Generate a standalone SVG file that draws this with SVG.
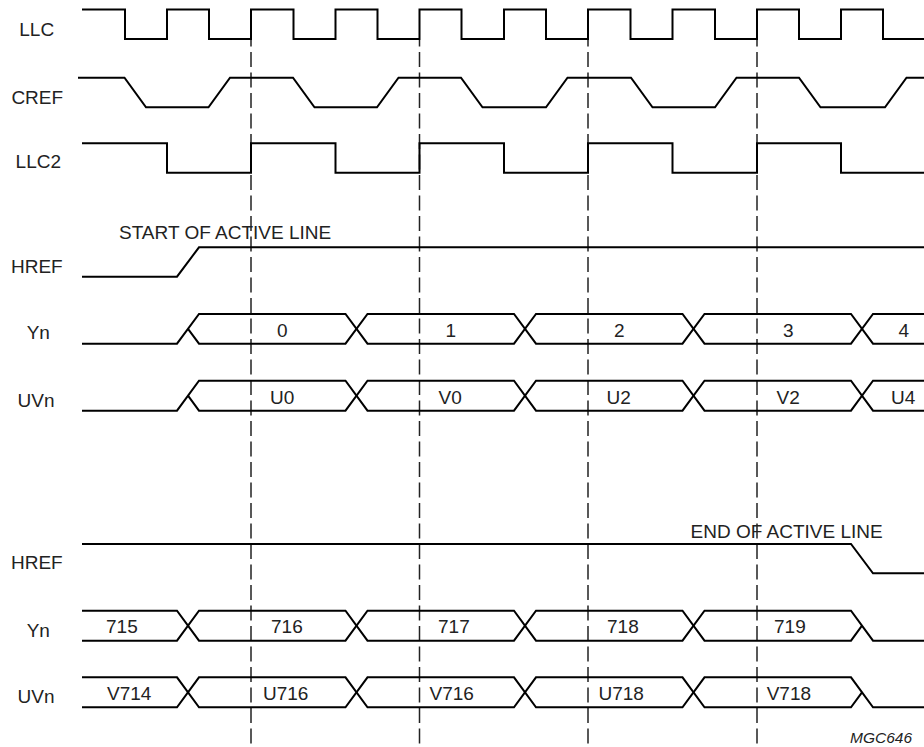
<svg xmlns="http://www.w3.org/2000/svg" width="924" height="747" viewBox="0 0 924 747">
  <style>
    .w { fill: none; stroke: #000; stroke-width: 2; stroke-linejoin: miter; }
    .d { fill: none; stroke: #222; stroke-width: 1.5; stroke-dasharray: 15 5.5; stroke-dashoffset: 8.5; }
    text { font-family: "Liberation Sans", Arial, Helvetica, sans-serif; font-size: 19px; fill: #222; }
    .tag { font-size: 15.5px; font-style: italic; }
  </style>
  <rect width="924" height="747" fill="#fff"/>

  <g id="guides">
    <line class="d" x1="251" y1="40" x2="251" y2="744"/>
    <line class="d" x1="419.5" y1="40" x2="419.5" y2="744"/>
    <line class="d" x1="588" y1="40" x2="588" y2="744"/>
    <line class="d" x1="757" y1="40" x2="757" y2="744"/>
  </g>

  <g id="llc">
    <text x="19.3" y="35.5">LLC</text>
    <path class="w" d="M82,9.5 H125 V39 H167 V9.5 H209 V39 H251 V9.5 H293.5 V39 H335.5 V9.5 H377.5 V39 H419.5 V9.5 H461.5 V39 H504 V9.5 H546 V39 H588 V9.5 H630.5 V39 H672.5 V9.5 H715 V39 H757 V9.5 H799 V39 H841 V9.5 H883 V39 H924"/>
  </g>

  <g id="cref">
    <text x="11.4" y="103.5">CREF</text>
    <path class="w" d="M78,77.7 H124.5 L146,107.3 H208.5 L230,77.7 H293 L314.5,107.3 H377 L398.5,77.7 H461 L482.5,107.3 H546 L567.5,77.7 H631 L652.5,107.3 H715 L736.5,77.7 H799 L820.5,107.3 H885 L906.5,77.7 H924"/>
  </g>

  <g id="llc2">
    <text x="15.6" y="168">LLC2</text>
    <path class="w" d="M82,143.3 H167 V172.7 H251 V143.3 H335.5 V172.7 H419.5 V143.3 H504 V172.7 H588 V143.3 H672.5 V172.7 H757 V143.3 H841 V172.7 H924"/>
  </g>

  <g id="href-start">
    <text x="119" y="238.5">START OF ACTIVE LINE</text>
    <text x="11" y="272.5">HREF</text>
    <path class="w" d="M82,276.7 H177 L199,247.3 H924"/>
  </g>

  <g id="yn-start">
    <text x="26.7" y="339">Yn</text>
    <path class="w" d="M82,343.7 H177 L199,314 H345.5 L367.5,343.7 H514 L536,314 H682.5 L704.5,343.7 H851 L873,314 H924"/>
    <path class="w" d="M188,328.85 L199,343.7 H345.5 L367.5,314 H514 L536,343.7 H682.5 L704.5,314 H851 L873,343.7 H924"/>
    <text x="277" y="336.5">0</text>
    <text x="445.5" y="336.5">1</text>
    <text x="614" y="336.5">2</text>
    <text x="783" y="336.5">3</text>
    <text x="898.5" y="336.5">4</text>
  </g>

  <g id="uvn-start">
    <text x="17.6" y="406.5">UVn</text>
    <path class="w" d="M82,410.7 H177 L199,380.7 H345.5 L367.5,410.7 H514 L536,380.7 H682.5 L704.5,410.7 H851 L873,380.7 H924"/>
    <path class="w" d="M188,395.7 L199,410.7 H345.5 L367.5,380.7 H514 L536,410.7 H682.5 L704.5,380.7 H851 L873,410.7 H924"/>
    <text x="270" y="403.5">U0</text>
    <text x="438.5" y="403.5">V0</text>
    <text x="606.5" y="403.5">U2</text>
    <text x="776.5" y="403.5">V2</text>
    <text x="891" y="403.5">U4</text>
  </g>

  <g id="href-end">
    <text x="690.5" y="538">END OF ACTIVE LINE</text>
    <text x="11" y="569">HREF</text>
    <path class="w" d="M82,544 H851 L873,573.3 H924"/>
  </g>

  <g id="yn-end">
    <text x="26.7" y="636.5">Yn</text>
    <path class="w" d="M82,610.7 H177 L199,640.7 H345.5 L367.5,610.7 H514 L536,640.7 H682.5 L704.5,610.7 H851 L873,640.7 H924"/>
    <path class="w" d="M82,640.7 H177 L199,610.7 H345.5 L367.5,640.7 H514 L536,610.7 H682.5 L704.5,640.7 H851 L862,625.7"/>
    <text x="106" y="632.5">715</text>
    <text x="271" y="632.5">716</text>
    <text x="438" y="632.5">717</text>
    <text x="607" y="632.5">718</text>
    <text x="774" y="632.5">719</text>
  </g>

  <g id="uvn-end">
    <text x="17.6" y="702.5">UVn</text>
    <path class="w" d="M82,677.3 H177 L199,707.3 H345.5 L367.5,677.3 H514 L536,707.3 H682.5 L704.5,677.3 H851 L873,707.3 H924"/>
    <path class="w" d="M82,707.3 H177 L199,677.3 H345.5 L367.5,707.3 H514 L536,677.3 H682.5 L704.5,707.3 H851 L862,692.3"/>
    <text x="107" y="700">V714</text>
    <text x="263" y="700">U716</text>
    <text x="429.5" y="700">V716</text>
    <text x="598.5" y="700">U718</text>
    <text x="766.7" y="700">V718</text>
  </g>

  <text class="tag" x="850" y="742.5">MGC646</text>
</svg>
